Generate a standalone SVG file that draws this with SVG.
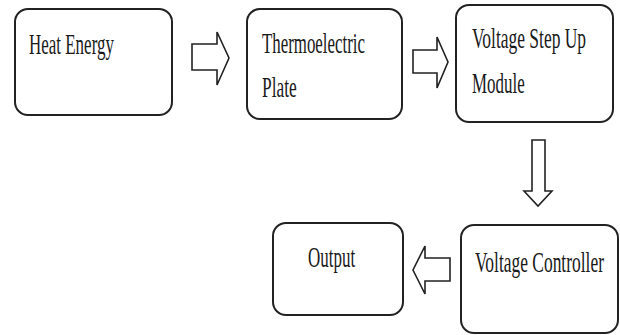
<svg xmlns="http://www.w3.org/2000/svg" width="620" height="335" viewBox="0 0 620 335">
<style>
.box{fill:#fff;stroke:#222;stroke-width:2}
.arr{fill:#fff;stroke:#222;stroke-width:1.6;stroke-linejoin:miter}
.t{font-family:"Liberation Serif","Times New Roman",serif;font-size:29px;fill:#1a1a1a}
</style>
<rect width="620" height="335" fill="#fff"/>
<g id="connectors">
<polygon class="arr" points="192,44 217,44 217,32 229,58 217,85 217,70 192,70"/>
<polygon class="arr" points="413,50 437,50 437,37 448,62 437,88 437,73 413,73"/>
<polygon class="arr" points="532,140 545,140 545,191 552,191 538,206 524,191 532,191"/>
<polygon class="arr" points="450,258 425,258 425,246 413,270 425,294 425,281 450,281"/>
</g>
<g id="heat-energy">
<rect class="box" x="15" y="9" width="157" height="106" rx="13"/>
<text class="t" transform="translate(29,54) scale(0.62,1)" textLength="137" lengthAdjust="spacingAndGlyphs">Heat Energy</text>
</g>
<g id="thermoelectric-plate">
<rect class="box" x="247" y="9" width="155" height="110" rx="13"/>
<text class="t" transform="translate(262,53) scale(0.62,1)" textLength="166" lengthAdjust="spacingAndGlyphs">Thermoelectric</text>
<text class="t" transform="translate(262,97) scale(0.62,1)" textLength="56" lengthAdjust="spacingAndGlyphs">Plate</text>
</g>
<g id="voltage-step-up">
<rect class="box" x="456" y="5" width="157" height="117" rx="13"/>
<text class="t" transform="translate(472,48) scale(0.62,1)" textLength="184" lengthAdjust="spacingAndGlyphs">Voltage Step Up</text>
<text class="t" transform="translate(472,93) scale(0.62,1)" textLength="85" lengthAdjust="spacingAndGlyphs">Module</text>
</g>
<g id="voltage-controller">
<rect class="box" x="461" y="225" width="157" height="108" rx="13"/>
<text class="t" transform="translate(475,272) scale(0.62,1)" textLength="208" lengthAdjust="spacingAndGlyphs">Voltage Controller</text>
</g>
<g id="output">
<rect class="box" x="273" y="223" width="130" height="92" rx="13"/>
<text class="t" transform="translate(308,267) scale(0.62,1)" textLength="76" lengthAdjust="spacingAndGlyphs">Output</text>
</g>
</svg>
